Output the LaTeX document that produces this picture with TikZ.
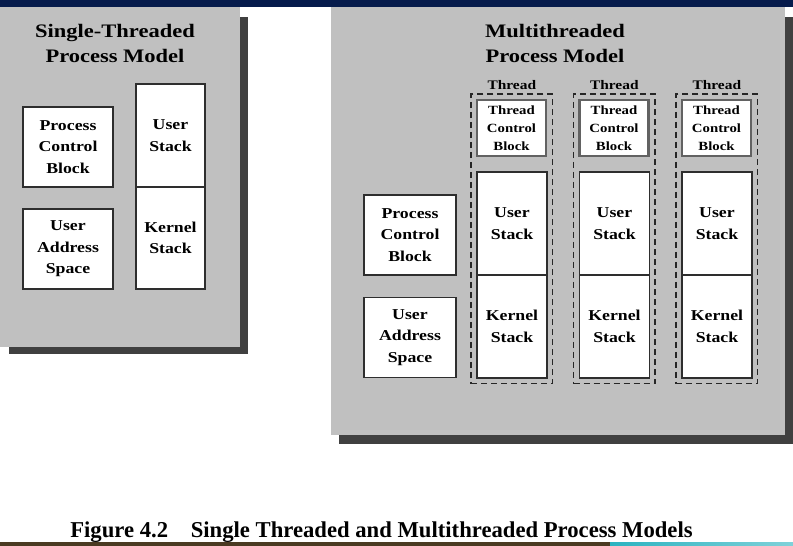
\documentclass[tikz,border=0pt]{standalone}
\usepackage{fontspec}
\usepackage{tikz}
\newfontfamily\capfont{Liberation Serif}
\newfontfamily\figfont[FakeStretch=1.18]{Liberation Serif}
\usetikzlibrary{positioning, fit}
\definecolor{panelgrey}{HTML}{C0C0C0}
\definecolor{shadowgrey}{HTML}{404040}
\definecolor{boxline}{HTML}{2E2E2E}
\definecolor{topbar}{HTML}{061B4C}
\definecolor{stripbrown}{HTML}{4A3A22}
\definecolor{stripteal}{HTML}{2BB3C0}

\begin{document}
\begin{tikzpicture}[x=0.75pt, y=-0.75pt,
    box/.style={rectangle, draw=boxline, fill=white, line width=1.1pt, align=center, font=\figfont\fontsize{11.3}{16}\selectfont\bfseries, inner sep=0pt},
    tcbbox/.style={box, draw=boxline!75, line width=1.6pt, minimum width=51.75pt, minimum height=42pt, font=\figfont\fontsize{9.4}{13.6}\selectfont\bfseries},
    stackbox/.style={box, minimum width=52.5pt, minimum height=77.25pt},
    threadbox/.style={rectangle, draw=black!85, dash pattern=on 4.5pt off 3pt, line width=1.1pt, inner sep=3.6pt},
    threadlabel/.style={font=\figfont\fontsize{9.8}{12}\selectfont\bfseries, inner sep=1pt},
    title/.style={align=center, font=\figfont\fontsize{14.3}{18.75}\selectfont\bfseries},
]
    \useasboundingbox (0,0) rectangle (793,546);
    % top bar and bottom strip
    \fill[topbar] (0,0) rectangle (793,7);
    \fill[stripbrown] (0,542) rectangle (625,546);
    \shade[left color=stripteal, right color=stripteal!60!white] (610,542) rectangle (793,546);

    % single-threaded panel
    \fill[shadowgrey] (9,17) rectangle (248,354);
    \fill[panelgrey] (0,7) rectangle (240,347);
    \node[title] (stitle) at (115,43) {Single-Threaded\\Process Model};
    \node[box, minimum width=67.5pt, minimum height=60pt] (spcb) at (68,147) {Process\\Control\\Block};
    \node[box, minimum width=67.5pt, minimum height=60pt] (suas) at (68,249) {User\\Address\\Space};
    \node[box, minimum width=51.75pt, minimum height=77.25pt] (sus) at (170.5,135.5) {User\\Stack};
    \node[box, minimum width=51.75pt, minimum height=76.5pt, below=-1.1pt of sus] (sks) {Kernel\\Stack};

    % multithreaded panel
    \fill[shadowgrey] (339,17) rectangle (793,444);
    \fill[panelgrey] (331,7) rectangle (785,435);
    \node[title] (mtitle) at (555,43) {Multithreaded\\Process Model};
    \node[box, minimum width=69pt, minimum height=60pt] (mpcb) at (410,235) {Process\\Control\\Block};
    \node[box, minimum width=69pt, minimum height=60pt] (muas) at (410,337.5) {User\\Address\\Space};

    \node[tcbbox] (tcb1) at (511.5,128) {Thread\\Control\\Block};
    \node[stackbox] (us1) at (512,223.5) {User\\Stack};
    \node[stackbox, below=-1.1pt of us1] (ks1) {Kernel\\Stack};
    \node[threadbox, fit=(tcb1) (us1) (ks1)] (th1) {};
    \node[threadlabel, above=2pt of th1] (tl1) {Thread};

    \node[tcbbox] (tcb2) at (614,128) {Thread\\Control\\Block};
    \node[stackbox] (us2) at (614.5,223.5) {User\\Stack};
    \node[stackbox, below=-1.1pt of us2] (ks2) {Kernel\\Stack};
    \node[threadbox, fit=(tcb2) (us2) (ks2)] (th2) {};
    \node[threadlabel, above=2pt of th2] (tl2) {Thread};

    \node[tcbbox] (tcb3) at (716.5,128) {Thread\\Control\\Block};
    \node[stackbox] (us3) at (717,223.5) {User\\Stack};
    \node[stackbox, below=-1.1pt of us3] (ks3) {Kernel\\Stack};
    \node[threadbox, fit=(tcb3) (us3) (ks3)] (th3) {};
    \node[threadlabel, above=2pt of th3] (tl3) {Thread};

    % caption
    \node[anchor=base, inner sep=0pt, font=\capfont\fontsize{17}{20}\selectfont\bfseries] (caption) at (381.5,537)
        {Figure 4.2\quad Single Threaded and Multithreaded Process Models};
\end{tikzpicture}
\end{document}
